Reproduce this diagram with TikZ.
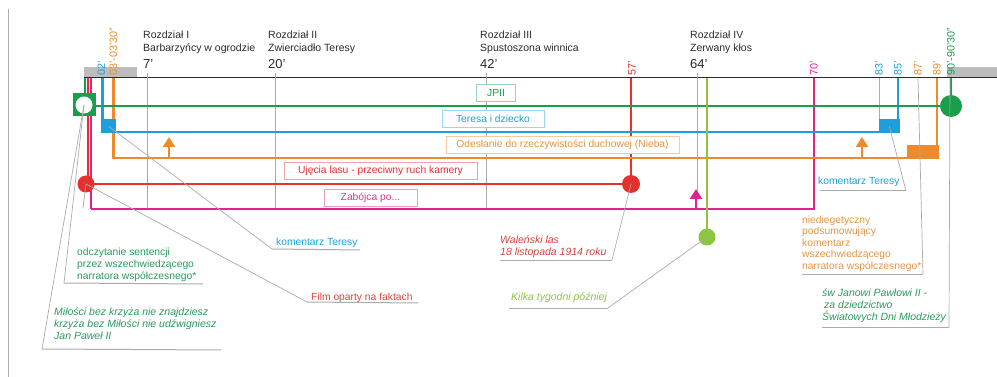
\documentclass[tikz,border=0pt]{standalone}
\usepackage{fontspec}
\setmainfont{Liberation Sans}
\usetikzlibrary{arrows.meta}
\definecolor{cgreen}{HTML}{1A9E4B}
\definecolor{ctgreen}{HTML}{2A9A5C}
\definecolor{cblue}{HTML}{1E9FDC}
\definecolor{corange}{HTML}{EE8A2C}
\definecolor{ctorange}{HTML}{E39445}
\definecolor{cred}{HTML}{E4312F}
\definecolor{ctred}{HTML}{D8413C}
\definecolor{cmag}{HTML}{E2238C}
\definecolor{ctmag}{HTML}{D23C98}
\definecolor{clime}{HTML}{8CC63F}
\definecolor{cgray}{HTML}{ABABAB}
\definecolor{cbar}{HTML}{BDBDBD}
\definecolor{ctext}{HTML}{2B2B2B}
\begin{document}
\begin{tikzpicture}[x=1pt,y=-1pt,
  every node/.style={font=\fontsize{10.3}{12}\selectfont},
  tl/.style={line width=2.5pt},
  vl/.style={line width=2pt},
  gl/.style={draw=cgray,line width=0.7pt},
  chl/.style={draw=cgray,line width=0.8pt},
  ul/.style={draw=cgray,line width=1pt},
  lbox/.style={draw=#1!45!white,line width=0.8pt,fill=white,text=#1,minimum height=17pt,inner sep=0pt,font=\fontsize{10.3}{12}\selectfont},
  ticklab/.style={rotate=90,anchor=west,inner sep=1pt,text=#1,font=\fontsize{10.8}{12}\selectfont},
  chap/.style={anchor=base west,inner sep=0pt,text=ctext,font=\fontsize{10.5}{13}\selectfont},
  chnum/.style={anchor=base west,inner sep=0pt,text=ctext,font=\fontsize{13}{15}\selectfont},
  call/.style={anchor=base west,inner sep=0pt,text=#1},
  mcall/.style={anchor=north west,inner sep=0pt,align=left,text=#1},
  itc/.style={font=\fontsize{10.5}{12}\selectfont\itshape},
  uparrow/.style={-{Triangle[width=12pt,length=10pt]},line width=2.5pt,draw=#1},
  blockfill/.style={fill=#1,inner sep=0pt,anchor=north west},
  dot/.style={circle,fill=#1,inner sep=0pt,minimum size=17pt},
]
\useasboundingbox (0,0) rectangle (997,377);
% page margin line
\draw[gl] (8,9) -- (8,377);
% bars and axis
\fill[cbar] (84,67) rectangle (137,78);
\fill[cbar] (947,67) rectangle (997,78);
\draw[line width=1pt,ctext] (84,78) -- (997,78);

% chapter headings
\node[chap] (r1a) at (143,39) {Rozdział I};
\node[chap] (r1b) at (143,52) {Barbarzyńcy w ogrodzie};
\node[chnum] (r1n) at (143,69) {7'};
\node[chap] (r2a) at (268,39) {Rozdział II};
\node[chap] (r2b) at (268,52) {Zwierciadło Teresy};
\node[chnum] (r2n) at (268,69) {20'};
\node[chap] (r3a) at (480,39) {Rozdział III};
\node[chap] (r3b) at (480,52) {Spustoszona winnica};
\node[chnum] (r3n) at (480,69) {42'};
\node[chap] (r4a) at (690,39) {Rozdział IV};
\node[chap] (r4b) at (690,52) {Zerwany kłos};
\node[chnum] (r4n) at (690,69) {64'};

% chapter lines
\draw[chl] (147,73) -- (147,209);
\draw[chl] (275,73) -- (275,209);
\draw[chl] (486,73) -- (486,209);
\draw[chl] (697,73) -- (697,195);

% tick labels
\node[ticklab=cblue] (t02) at (101.5,77) {02'};
\node[ticklab=corange] (t03) at (113.5,77) {03'-03'30"};
\node[ticklab=cred] (t57) at (632,77) {57'};
\node[ticklab=cmag] (t70) at (814,77) {70'};
\node[ticklab=cblue] (t83) at (879,77) {83'};
\node[ticklab=cblue] (t85) at (898,77) {85'};
\node[ticklab=corange] (t87) at (918,77) {87'};
\node[ticklab=corange] (t89) at (937,77) {89'};
\node[ticklab=cgreen] (t90) at (951,77) {90'-90'30"};

% gray tick lines
\draw[gl] (879,78) -- (879,119);

% coloured timelines
\draw[vl,cmag] (91,78) -- (91,209);
\draw[tl,cmag] (91,209) -- (814,209) -- (814,78);
\draw[vl,cred] (88,78) -- (88,184);
\draw[tl,cred] (88,184) -- (631,184);
\draw[tl,cred] (631,78) -- (631,184);
\draw[tl,corange] (113.5,78) -- (113.5,158) -- (937,158) -- (937,78);
\draw[tl,cblue] (102.5,78) -- (102.5,132) -- (898,132) -- (898,78);
\draw[vl,cgreen] (84.5,78) -- (84.5,106);
\draw[tl,cgreen] (84.5,106) -- (951,106);
\draw[tl,cgreen] (951,78) -- (951,106);
\draw[tl,clime] (707,78) -- (707,237);

% arrows
\coordinate (oa1s) at (169,158);
\coordinate (oa1e) at (169,137);
\coordinate (oa2s) at (862,158);
\coordinate (oa2e) at (862,137);
\coordinate (ma1s) at (696,209);
\coordinate (ma1e) at (696,189);
\draw[uparrow=corange] (oa1s) -- (oa1e);
\draw[uparrow=corange] (oa2s) -- (oa2e);
\draw[uparrow=cmag] (ma1s) -- (ma1e);

% blocks
\node[blockfill=cblue,minimum width=14pt,minimum height=14.3pt] (bsqL) at (101.5,119) {};
\node[blockfill=cblue,minimum width=20.3pt,minimum height=14.3pt] (bsqR) at (879,119) {};
\node[blockfill=corange,minimum width=31.3pt,minimum height=14.3pt] (osq) at (907,145) {};

% label boxes
\node[lbox=cgreen,minimum width=39pt] (bJP) at (496,93) {JPII};
\node[lbox=cblue,minimum width=102pt] (bTD) at (493,118.5) {Teresa i dziecko};
\node[lbox=corange,text=ctorange,minimum width=233pt] (bOD) at (562.5,144.5) {Odesłanie do rzeczywistości duchowej (Nieba)};
\node[lbox=cred,minimum width=193pt] (bUL) at (380.5,170.5) {Ujęcia lasu - przeciwny ruch kamery};
\node[lbox=cmag,text=ctmag,minimum width=93pt] (bZP) at (370.5,197.5) {Zabójca po...};

% circles
\node[fill=cgreen,inner sep=0pt,minimum size=23pt] (gsq) at (84,105) {};
\node[dot=white,minimum size=17pt] (gcirc) at (84,105) {};
\node[dot=cred] (rc1) at (86,184) {};
\node[dot=cred,minimum size=18pt] (rc2) at (631,184) {};
\node[dot=cgreen,minimum size=22pt] (gc2) at (951,106) {};
\node[dot=clime] (lc) at (707,237) {};

% callout texts
\node[mcall=ctgreen] (t_odcz) at (77,247.5) {odczytanie sentencji\\przez wszechwiedzącego\\narratora współczesnego*};
\node[mcall=ctgreen,itc] (t_milo) at (54,307.5) {Miłości bez krzyża nie znajdziesz\\krzyża bez Miłości nie udźwigniesz\\Jan Paweł II};
\node[call=cblue] (t_kom1) at (276,246) {komentarz Teresy};
\node[call=ctred] (t_film) at (311,300) {Film oparty na faktach};
\node[mcall=ctred,itc] (t_wal) at (500,235.5) {Waleński las\\18 listopada 1914 roku};
\node[call=clime,itc] (t_kilka) at (511,300) {Kilka tygodni później};
\node[call=cblue] (t_kom2) at (818,185) {komentarz Teresy};
\node[mcall=ctorange,font=\fontsize{10.3}{11.5}\selectfont] (t_nied) at (802,215.5) {niediegetyczny\\podsumowujący\\komentarz\\wszechwiedzącego\\narratora współczesnego*};
\node[mcall=ctgreen,itc] (t_sw) at (822,288.5) {św Janowi Pawłowi II -\\\hspace*{2pt}za dziedzictwo\\Światowych Dni Młodzieży};

% callout connectors
\coordinate (u1a) at (64,283);   \coordinate (u1b) at (203,284);
\coordinate (u2a) at (42,349);   \coordinate (u2b) at (221,350);
\coordinate (u3a) at (272,249);  \coordinate (u3b) at (360,250);
\coordinate (u4a) at (307,302);  \coordinate (u4b) at (418,303);
\coordinate (u5a) at (612,260);  \coordinate (u5b) at (500,260);
\coordinate (u6a) at (608,308);  \coordinate (u6b) at (509,308);
\coordinate (u7a) at (906,191);  \coordinate (u7b) at (820,191);
\coordinate (u8t) at (918,78);   \coordinate (u8a) at (923,274); \coordinate (u8b) at (802,274);
\coordinate (u9t) at (950,78);   \coordinate (u9a) at (949,327); \coordinate (u9b) at (822,327);
\coordinate (u10) at (83,208);
\draw[gl] (gcirc.center) -- (u1a);  \draw[ul] (u1a) -- (u1b);
\draw[gl] (gcirc.center) -- (u2a);  \draw[ul] (u2a) -- (u2b);
\draw[gl] (bsqL.center) -- (u3a);   \draw[ul] (u3a) -- (u3b);
\draw[gl] (rc1.center) -- (u4a);    \draw[ul] (u4a) -- (u4b);
\draw[gl] (rc2.center) -- (u5a);    \draw[ul] (u5a) -- (u5b);
\draw[gl] (lc.center) -- (u6a);     \draw[ul] (u6a) -- (u6b);
\draw[gl] (bsqR.center) -- (u7a);   \draw[ul] (u7a) -- (u7b);
\draw[gl] (u8t) -- (u8a);           \draw[ul] (u8a) -- (u8b);
\draw[gl] (u9t) -- (u9a);           \draw[ul] (u9a) -- (u9b);
\draw[gl] (rc1.center) -- (u10);
\end{tikzpicture}
\end{document}
